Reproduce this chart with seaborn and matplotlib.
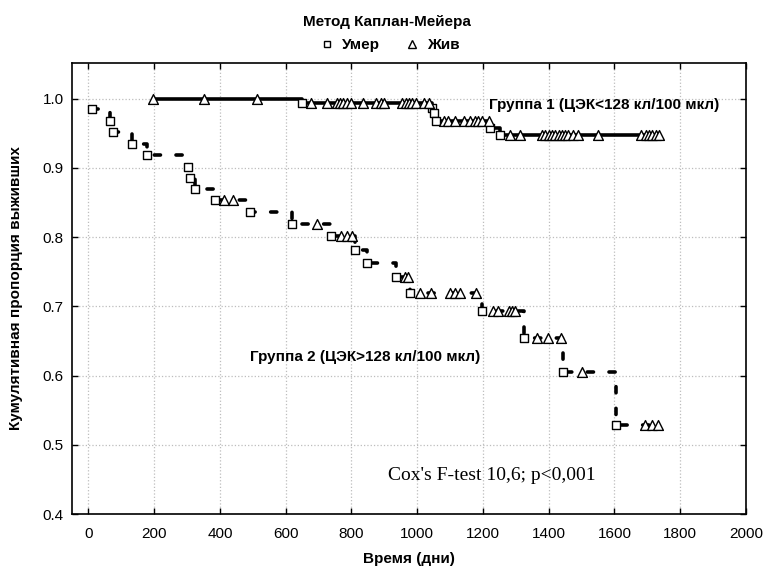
import matplotlib
matplotlib.use("Agg")
import matplotlib.pyplot as plt
from matplotlib.lines import Line2D
import seaborn as sns
import pandas as pd

# группа 1 (ЦЭК<128): умершие (квадраты) и живые/цензурированные (треугольники)
g1_died_t = [649, 1046, 1050, 1056, 1222, 1252]
g1_died_s = [0.994, 0.987, 0.979, 0.968, 0.958, 0.947]
g1_alive_t = [196, 352, 512,
              678, 727, 755, 765, 775, 785, 800, 836, 875, 890, 900, 955, 965, 975, 985, 997, 1021, 1036,
              1080, 1095, 1115, 1141, 1161, 1176, 1186, 1197, 1217,
              1283, 1313, 1380, 1390, 1400, 1410, 1420, 1430, 1440, 1450, 1460, 1475, 1490, 1551,
              1680, 1695, 1705, 1715, 1725, 1735]
g1_alive_s = [1.0] * 3 + [0.994] * 18 + [0.968] * 9 + [0.947] * 20

# группа 2 (ЦЭК>128)
g2_died_t = [11, 67, 74, 134, 179, 302, 308, 323, 386, 491, 619, 739, 811, 847, 935, 977, 1197, 1326, 1443, 1604]
g2_died_s = [0.985, 0.968, 0.952, 0.934, 0.918, 0.902, 0.885, 0.869, 0.853, 0.836, 0.819, 0.802,
             0.782, 0.762, 0.742, 0.720, 0.693, 0.655, 0.605, 0.529]
g2_alive_t = [413, 441, 695, 768, 785, 801, 963, 973,
              1007, 1043, 1100, 1115, 1130, 1180,
              1232, 1247, 1278, 1288, 1298, 1364, 1399, 1437, 1501, 1693, 1713, 1733]
g2_alive_s = [0.853, 0.853, 0.819, 0.802, 0.802, 0.802, 0.742, 0.742,
              0.720, 0.720, 0.720, 0.720, 0.720, 0.720,
              0.693, 0.693, 0.693, 0.693, 0.693, 0.655, 0.655, 0.655, 0.605, 0.529, 0.529, 0.529]

x_ticks = [0, 200, 400, 600, 800, 1000, 1200, 1400, 1600, 1800, 2000]
y_ticks = [0.4, 0.5, 0.6, 0.7, 0.8, 0.9, 1.0]


def make_df(died_t, died_s, alive_t, alive_s):
    d = pd.DataFrame({"t": died_t + alive_t, "s": died_s + alive_s,
                      "status": ["Умер"] * len(died_t) + ["Жив"] * len(alive_t)})
    return d.sort_values("t").reset_index(drop=True)


g1 = make_df(g1_died_t, g1_died_s, g1_alive_t, g1_alive_s)
g2 = make_df(g2_died_t, g2_died_s, g2_alive_t, g2_alive_s)

sns.set_style("ticks")
plt.rcParams["font.family"] = ["Liberation Sans", "DejaVu Sans"]
plt.rcParams["text.color"] = "black"
plt.rcParams["axes.labelcolor"] = "black"

fig = plt.figure(figsize=(7.64, 5.70), dpi=100)
ax = fig.add_axes([72 / 764, 1 - 514 / 570, (746 - 72) / 764, (514 - 63) / 570])

sns.lineplot(data=g1, x="t", y="s", estimator=None, sort=True, drawstyle="steps-post",
             color="black", linewidth=2.6, ax=ax, zorder=2)
sns.lineplot(data=g2, x="t", y="s", estimator=None, sort=True, drawstyle="steps-post",
             color="black", linewidth=2.6, linestyle=(0, (1.7, 4.3)),
             dash_capstyle="round", ax=ax, zorder=2)

for df in (g1, g2):
    sq = df[df["status"] == "Умер"]
    tr = df[df["status"] == "Жив"]
    sns.scatterplot(x=sq["t"], y=sq["s"], marker="s", s=38, color="white",
                    edgecolor="black", linewidth=1, ax=ax, zorder=3)
    sns.scatterplot(x=tr["t"], y=tr["s"], marker="^", s=50, color="white",
                    edgecolor="black", linewidth=1, ax=ax, zorder=3)

ax.set_xlim(-50, 2000)
ax.set_ylim(0.4, 1.0516)
ax.set_xticks(x_ticks)
ax.set_yticks(y_ticks)
ax.set_yticklabels([f"{v:.1f}" for v in y_ticks])
ax.grid(True, color="#bdbdbd", linestyle=":", linewidth=0.9)
ax.tick_params(direction="in", length=4, width=1, top=True, right=True,
               labelsize=11, colors="black")
ax.tick_params(axis="x", pad=9)
ax.tick_params(axis="y", pad=6)
for sp in ax.spines.values():
    sp.set_visible(True)
    sp.set_linewidth(1.2)
    sp.set_color("black")

ax.set_xlabel("Время (дни)", fontsize=11, fontweight="bold", labelpad=8)
ax.set_ylabel("Кумулятивная пропорция выживших", fontsize=11, fontweight="bold", labelpad=14)

ax.text(1219, 0.991, "Группа 1 (ЦЭК<128 кл/100 мкл)", fontsize=11, fontweight="bold", va="center")
ax.text(492, 0.627, "Группа 2 (ЦЭК>128 кл/100 мкл)", fontsize=11, fontweight="bold", va="center")
ax.text(912, 0.455, "Cox's F-test 10,6; p<0,001", fontsize=14, va="center",
        family=["Liberation Serif", "DejaVu Serif"])

fig.text(0.507, 1 - 22 / 570, "Метод Каплан-Мейера", ha="center", va="center",
         fontsize=11, fontweight="bold")
handles = [Line2D([], [], marker="s", ls="", mfc="white", mec="black", ms=5, mew=1),
           Line2D([], [], marker="^", ls="", mfc="white", mec="black", ms=5.5, mew=1)]
fig.legend(handles, ["Умер", "Жив"], loc="center", bbox_to_anchor=(0.51, 1 - 45 / 570),
           ncol=2, frameon=False, prop={"weight": "bold", "size": 11},
           handletextpad=0.5, columnspacing=1.6, handlelength=1.0)

if ax.get_legend() is not None:
    ax.get_legend().remove()

fig.savefig("out.png", dpi=100)
